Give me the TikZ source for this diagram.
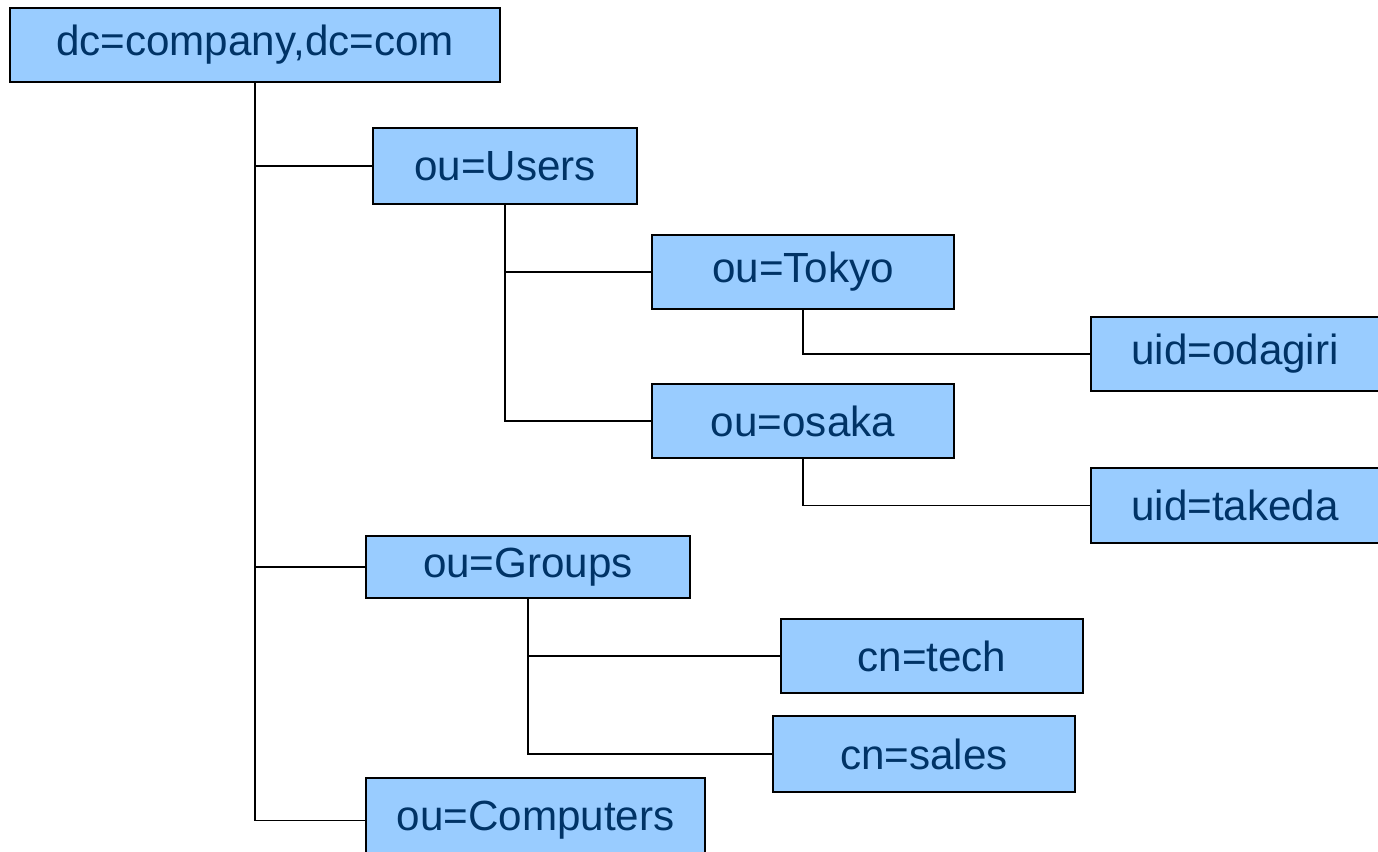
\documentclass[tikz,border=0pt]{standalone}
\usepackage{fontspec}
\setmainfont{Liberation Sans}
\usepackage{tikz}
\definecolor{boxfill}{HTML}{99CCFF}
\definecolor{boxtext}{HTML}{003366}
\tikzset{
  entry/.style={draw, line width=1pt, fill=boxfill, text=boxtext, inner sep=0pt,
    font=\fontsize{24}{28}\selectfont, minimum width=6.04cm, minimum height=1.48cm},
  link/.style={line width=1pt}
}
\begin{document}
\begin{tikzpicture}
  \useasboundingbox (0,0) rectangle (27.56,-17.04);
  \node[entry, minimum width=9.8cm] (DC) at (5.1,-0.9) {dc=company,dc=com};
  \node[entry, minimum width=5.28cm, minimum height=1.52cm] (US) at (10.1,-3.32) {ou=Users};
  \node[entry] (TK) at (16.06,-5.44) {ou=Tokyo};
  \node[entry, minimum width=5.76cm] (OD) at (24.7,-7.08) {uid=odagiri};
  \node[entry] (OS) at (16.06,-8.42) {ou=osaka};
  \node[entry, minimum width=5.76cm, minimum height=1.5cm] (TA) at (24.7,-10.11) {uid=takeda};
  \node[entry, minimum width=6.48cm, minimum height=1.24cm] (GR) at (10.56,-11.34) {ou=Groups};
  \node[entry] (TE) at (18.64,-13.12) {cn=tech};
  \node[entry, minimum height=1.52cm] (SA) at (18.48,-15.08) {cn=sales};
  \node[entry, minimum width=6.78cm, minimum height=1.7cm] (CO) at (10.71,-16.41) {ou=Computers};
  \draw[link] (DC.south) |- (US.west);
  \draw[link] (DC.south) |- (GR.west);
  \draw[link] (DC.south) |- (CO.west);
  \draw[link] (US.south) |- (TK.west);
  \draw[link] (US.south) |- (OS.west);
  \draw[link] (TK.south) |- (OD.west);
  \draw[link] (OS.south) |- (TA.west);
  \draw[link] (GR.south) |- (TE.west);
  \draw[link] (GR.south) |- (SA.west);
\end{tikzpicture}
\end{document}
